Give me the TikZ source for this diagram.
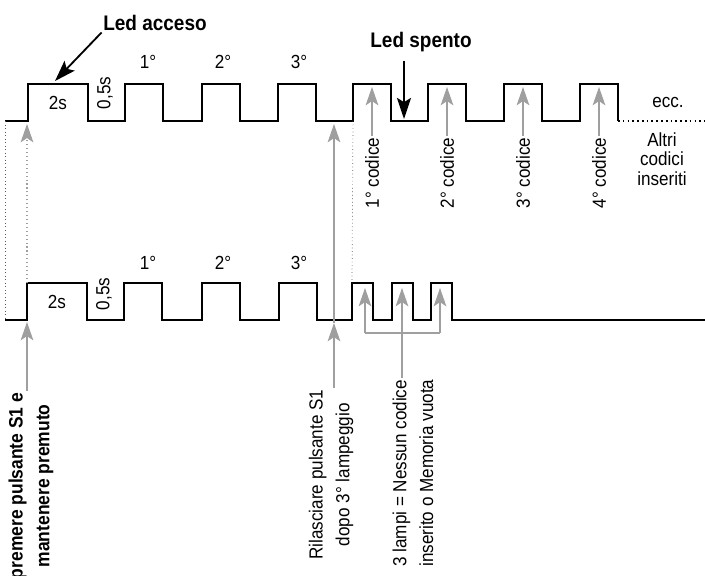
\documentclass[tikz,border=0pt]{standalone}
\usepackage{fontspec}
\setmainfont[FakeStretch=0.9]{Liberation Sans}
\usepackage{tikz}
\usetikzlibrary{arrows.meta, calc}

\begin{document}
\begin{tikzpicture}[
  x=0.025cm, y=-0.025cm,
  wave/.style={line width=1.6pt, line join=miter},
  guide/.style={gray!70!black, dotted, line width=0.5pt},
  grayarr/.style={gray!75, line width=0.8pt, -{Stealth[length=13pt, width=9pt, inset=3pt]}},
  blkarr/.style={black, line width=1.3pt, -{Stealth[length=15pt, width=10pt, inset=3pt]}},
  lbl/.style={font=\fontsize{13.5}{15}\selectfont, inner sep=1pt},
  vlbl/.style={rotate=90, align=center, inner sep=1pt, font=\fontsize{13.5}{19}\selectfont},
  title/.style={font=\fontsize{15}{17}\selectfont\bfseries, inner sep=1pt},
]
  \useasboundingbox (0,0) rectangle (705,575);
  \clip (0,0) rectangle (705,575);

  % Top line
  \draw[wave] (5,121) -- (28,121) -- (28,84) -- (88,84) -- (88,121)
    foreach \x in {125,202,278,353,428,504,580} { -- (\x,121) -- (\x,84) -- (\x+38,84) -- (\x+38,121) };
  \draw[line width=1.2pt, dash pattern=on 1.2pt off 2.2pt] (618,121) -- (705,121);

  \node[lbl] (dueT) at (58,103) {2s};
  \node[lbl, rotate=90] (mezzoT) at (105,93) {0,5s};
  \foreach \x/\n in {148/1,223/2,299/3}
    \node[lbl] (nT\n) at (\x,62) {\n°};

  \node[title] (acceso) at (155,23) {Led acceso};
  \coordinate (accesoTip) at (55,81);
  \draw[blkarr] (acceso.south west) -- (accesoTip);

  \node[title] (spento) at (421,42) {Led spento};
  \coordinate (spentoTip) at (404,119);
  \draw[blkarr, shorten <=5pt] (spentoTip |- spento.south) -- (spentoTip);

  \foreach \x/\n in {372/1,447/2,523/3,599/4} {
    \node[vlbl, anchor=east] (cod\n) at (\x,136) {\n° codice};
    \coordinate (cT\n) at (\x,87);
    \draw[grayarr] (cod\n.east) -- (cT\n);
  }

  \node[lbl] (ecc) at (668,102) {ecc.};
  \node[lbl, align=center, font=\fontsize{13.5}{13.8}\selectfont] (altri) at (662,159) {Altri\\codici\\inseriti};

  % Bottom line
  \draw[wave] (5,320) -- (27,320) -- (27,283) -- (87,283) -- (87,320)
    foreach \x in {124,202,279} { -- (\x,320) -- (\x,283) -- (\x+38,283) -- (\x+38,320) }
    foreach \x in {352,392,431} { -- (\x,320) -- (\x,283) -- (\x+21,283) -- (\x+21,320) }
    -- (705,320);

  \node[lbl] (dueB) at (57,302) {2s};
  \node[lbl, rotate=90] (mezzoB) at (104,294) {0,5s};
  \foreach \x/\n in {148/1,223/2,299/3}
    \node[lbl] (nB\n) at (\x,263) {\n°};

  % Guides between the two lines
  \coordinate (topStart) at (5,121);
  \coordinate (botStart) at (5,320);
  \coordinate (topRise) at (353,121);
  \coordinate (botRise) at (352,283);
  \draw[guide] (topStart) -- (botStart);
  \draw[guide] (topRise) -- (botRise);

  \coordinate (pB) at (27,322);
  \coordinate (pM) at (27,283);
  \coordinate (pT) at (27,124);
  \draw[grayarr, dotted] (pM) -- (pT);

  \coordinate (rB) at (334,323);
  \coordinate (rT) at (334,124);
  \draw[grayarr] (rB) -- (rT);

  % Labels below
  \node[vlbl, font=\fontsize{13.8}{19}\selectfont\bfseries, anchor=east] (premi) at (31,391)
    {premere pulsante S1 e\\mantenere premuto};
  \draw[grayarr] (pB |- premi.east) -- (pB);

  \node[vlbl, anchor=east] (rilascia) at (331,388) {Rilasciare pulsante S1\\dopo 3° lampeggio};
  \draw[grayarr] (rB |- rilascia.east) -- (rB);

  \node[vlbl, anchor=east] (lampi) at (413,378) {3 lampi = Nessun codice\\inserito o Memoria vuota};
  \coordinate (b1) at (365,333);
  \coordinate (b2) at (402,333);
  \coordinate (b3) at (440,333);
  \coordinate (t1) at (365,288);
  \coordinate (t2) at (402,288);
  \coordinate (t3) at (440,288);
  \draw[gray!75, line width=0.8pt] (b1) -- (b3);
  \draw[grayarr] (b1) -- (t1);
  \draw[grayarr] (b3) -- (t3);
  \draw[grayarr] (b2 |- lampi.east) -- (t2);
\end{tikzpicture}
\end{document}
